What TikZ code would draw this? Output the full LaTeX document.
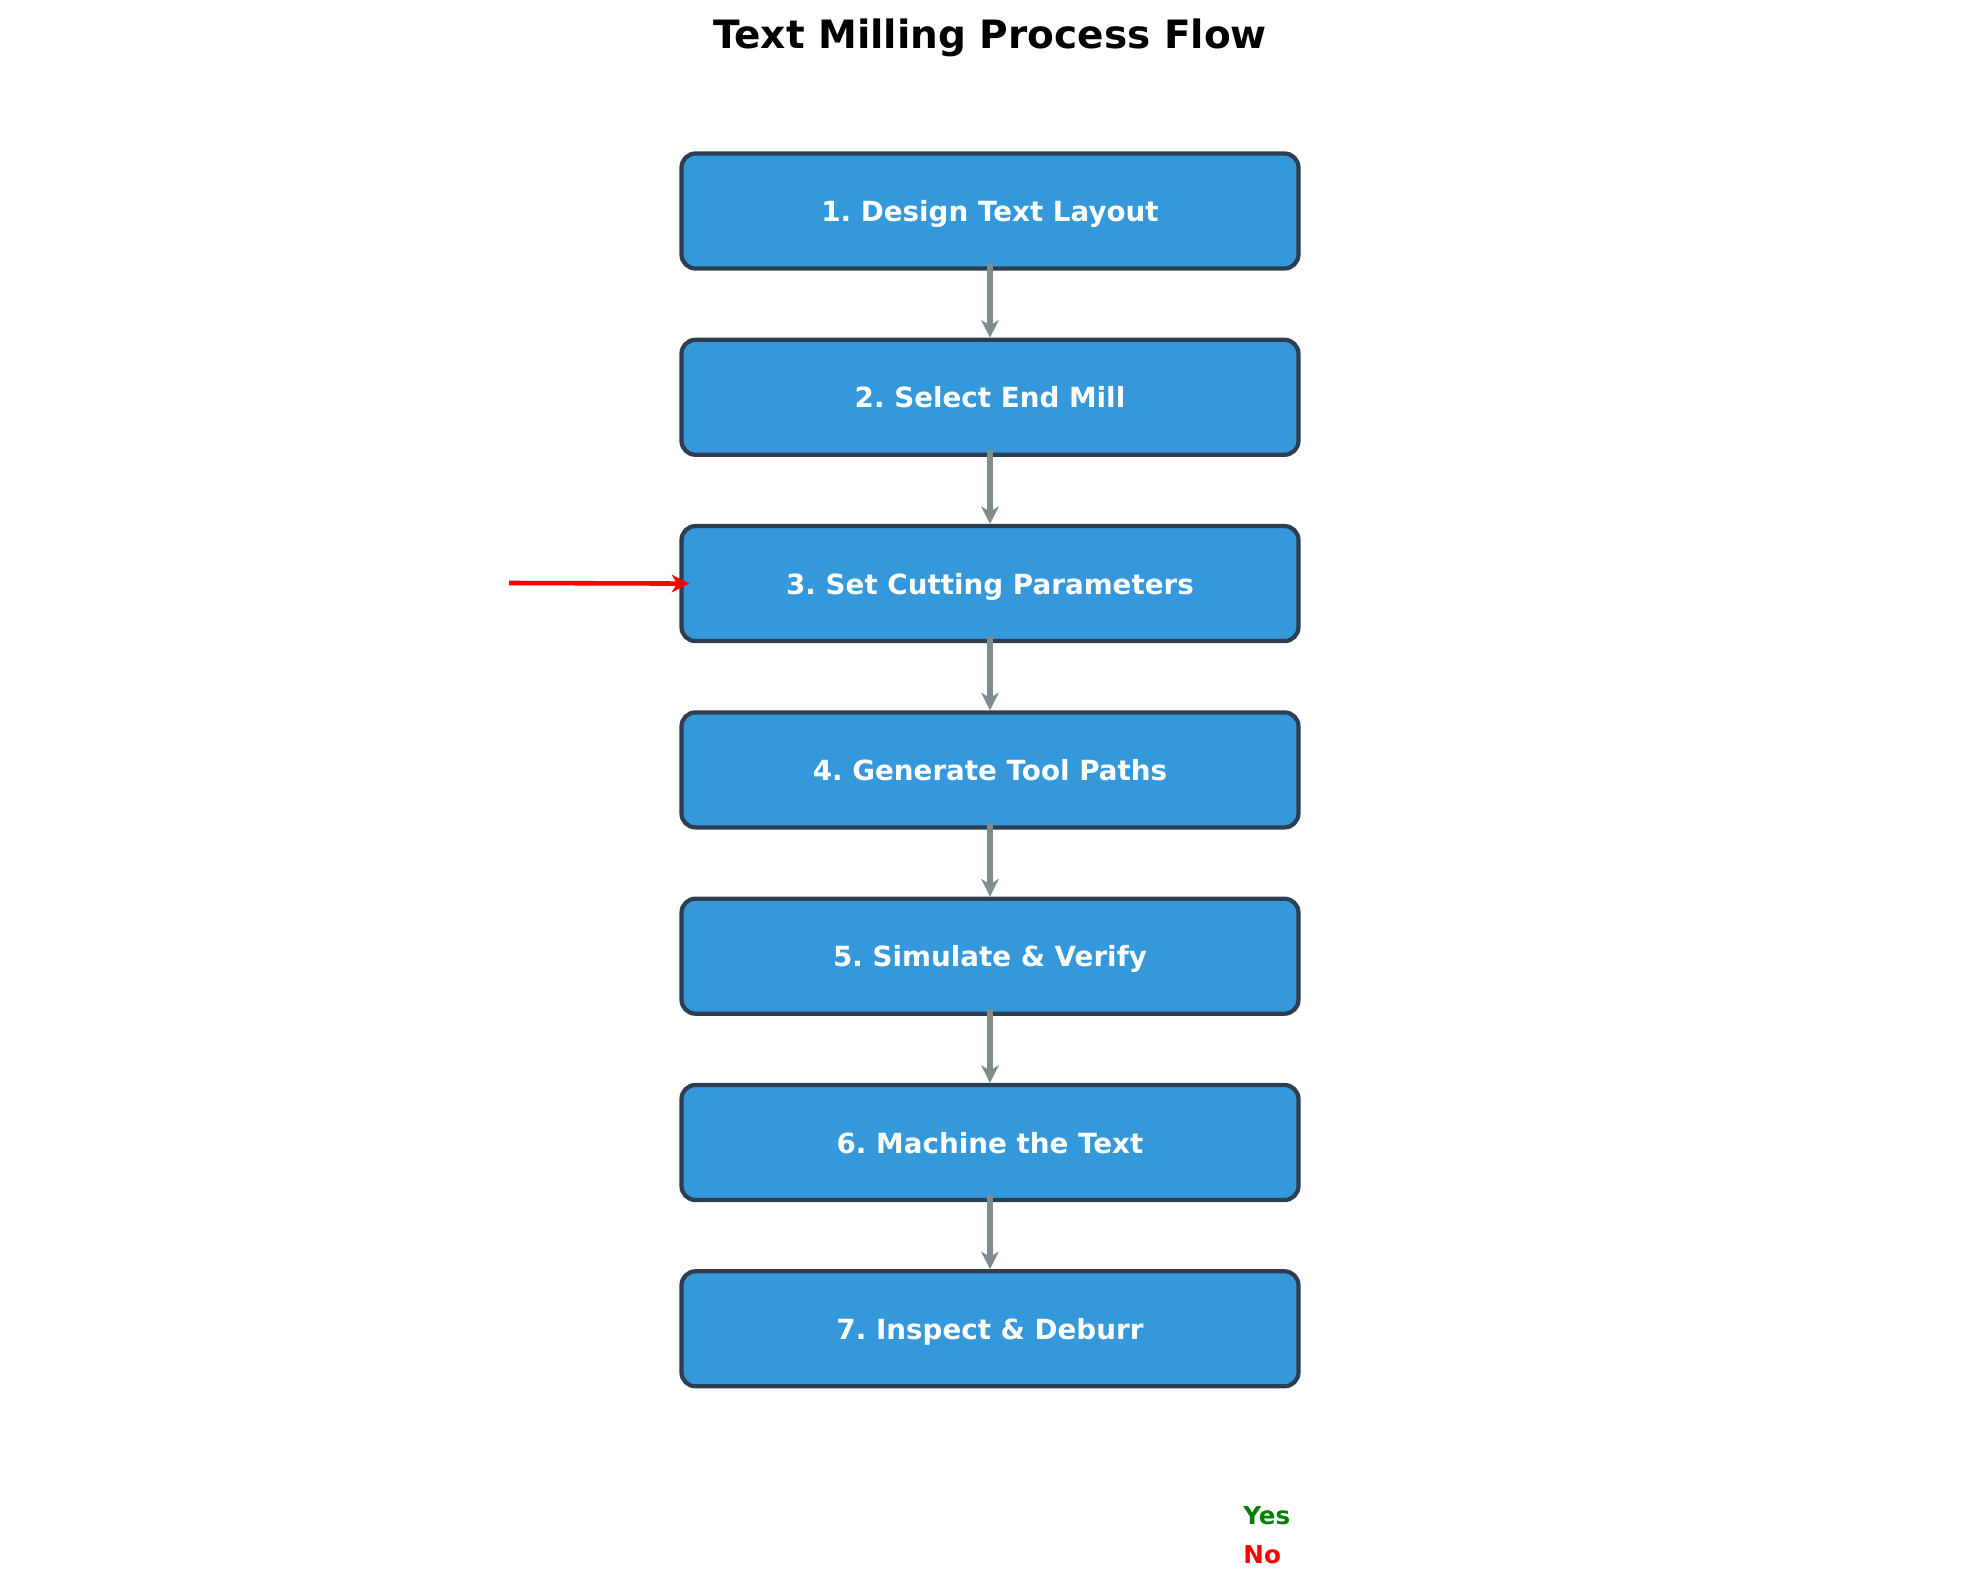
\documentclass[tikz,border=0pt]{standalone}
\usepackage{fontspec}
\setmainfont{DejaVu Sans}
\frenchspacing
\usetikzlibrary{arrows.meta}
\definecolor{stepblue}{HTML}{3498DB}
\definecolor{stepedge}{HTML}{2C3E50}
\definecolor{flowgray}{HTML}{7F8C8D}
\definecolor{yesgreen}{HTML}{008000}
\tikzset{%
	stepbox/.style={
		rectangle, rounded corners=0.14cm,
		draw=stepedge, line width=1.2pt,
		fill=stepblue,
		minimum width=6.17cm, minimum height=1.15cm,
		text height=1.4ex, text depth=0.3ex,
		text=white, font=\fontsize{7.9}{9}\selectfont\bfseries
	},
	flow/.style={-{Stealth[length=5pt,width=5pt,inset=1.5pt]}, draw=flowgray, line width=1.6pt},
}

\begin{document}
\begin{tikzpicture}
\useasboundingbox (0,0) rectangle (19.79,-15.88);

\node [font=\fontsize{11.1}{13}\selectfont\bfseries] (title) at (9.90,-0.38) {Text Milling Process Flow};

\foreach \l [count=\i] in {1. Design Text Layout, 2. Select End Mill, 3. Set Cutting Parameters, 4. Generate Tool Paths, 5. Simulate \& Verify, 6. Machine the Text, 7. Inspect \& Deburr}
\node [stepbox] (step-\i) at (9.90,-2.11-1.863*\i+1.863) {\l};

\foreach \i [evaluate=\i as \j using int(\i+1)] in {1,...,6}
\draw [flow] ([yshift=0.07cm]step-\i.south) -- (step-\j.north);

% feedback entry
\coordinate (loop-in) at (5.09,-5.83);
\draw [-{Stealth[length=5pt,width=5pt,inset=1.5pt]}, red, line width=1.3pt] (loop-in) -- ([xshift=0.1cm]step-3.west);

\node [anchor=west, text=yesgreen, font=\fontsize{7}{8}\selectfont\bfseries] (yes) at (12.31,-15.16) {Yes};
\node [anchor=west, text=red, font=\fontsize{7}{8}\selectfont\bfseries] (no) at (12.31,-15.55) {No};

\end{tikzpicture}
\end{document}
